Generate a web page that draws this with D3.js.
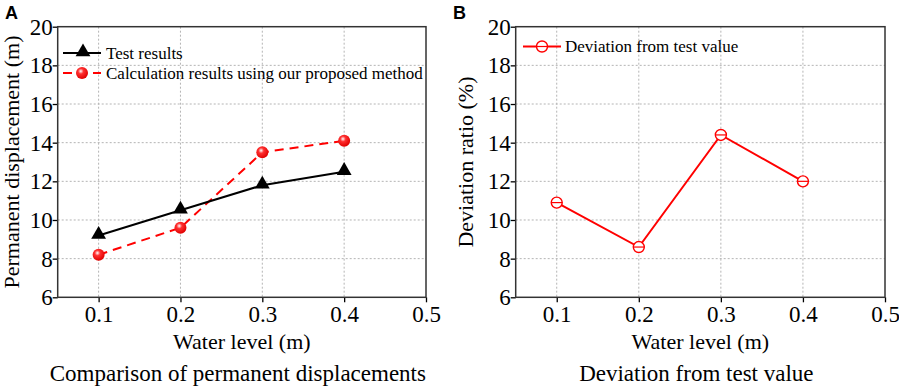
<!DOCTYPE html>
<html>
<head>
<meta charset="utf-8">
<script src="https://d3js.org/d3.v7.min.js"></script>
<style>
  body { margin: 0; background: #fff; }
  svg text { font-family: "Liberation Serif", "Times New Roman", serif; fill: #000; }
</style>
</head>
<body>
<div id="chart"></div>
<script>

// water level values (x)
var waterLevels = [0.1, 0.2, 0.3, 0.4];

// panel A series
var testResults = [9.2, 10.5, 11.8, 12.5];
var calcResults = [8.2, 9.6, 13.5, 14.1];

// panel B series
var deviation = [10.9, 8.6, 14.4, 12.0];

// ticks
var xTicks = [0.1, 0.2, 0.3, 0.4, 0.5];
var yTicks = [6, 8, 10, 12, 14, 16, 18, 20];

var W = 899, H = 387;

var svg = d3.select("#chart").append("svg")
  .attr("width", W)
  .attr("height", H);

var defs = svg.append("defs");
var grad = defs.append("radialGradient")
  .attr("id", "ball")
  .attr("cx", "40%").attr("cy", "35%").attr("r", "65%");
grad.append("stop").attr("offset", "0%").attr("stop-color", "#ffffff");
grad.append("stop").attr("offset", "35%").attr("stop-color", "#ff3030");
grad.append("stop").attr("offset", "100%").attr("stop-color", "#e00000");

// draws one framed panel, returns scales and group
function makePanel(left, right, top, bottom, yLabel, yLabelX, caption, letter, letterX) {
  var g = svg.append("g");

  var x = d3.scaleLinear().domain([0.05, 0.5]).range([left, right]);
  var y = d3.scaleLinear().domain([6, 20]).range([bottom, top]);

  // grid
  g.selectAll(".gx").data(xTicks.slice(0, 4)).enter().append("line")
    .attr("x1", function(d) { return x(d); }).attr("x2", function(d) { return x(d); })
    .attr("y1", top).attr("y2", bottom)
    .attr("stroke", "#b4b4b4").attr("stroke-width", 1).attr("stroke-dasharray", "2,2");
  g.selectAll(".gy").data(yTicks.slice(1, 7)).enter().append("line")
    .attr("y1", function(d) { return y(d); }).attr("y2", function(d) { return y(d); })
    .attr("x1", left).attr("x2", right)
    .attr("stroke", "#b4b4b4").attr("stroke-width", 1).attr("stroke-dasharray", "2,2");

  // axes
  var ax = g.append("g")
    .attr("transform", "translate(0," + bottom + ")")
    .call(d3.axisBottom(x).tickValues(xTicks).tickFormat(d3.format(".1f")).tickSize(5).tickSizeOuter(0));
  var ay = g.append("g")
    .attr("transform", "translate(" + left + ",0)")
    .call(d3.axisLeft(y).tickValues(yTicks).tickFormat(d3.format("d")).tickSize(5).tickSizeOuter(0));
  [ax, ay].forEach(function(a) {
    a.attr("font-family", null).attr("font-size", null);
    a.select(".domain").remove();
    a.selectAll("line").attr("stroke", "#000").attr("stroke-width", 1.3);
    a.selectAll("text").style("font-family", "Liberation Serif").style("font-size", "23px").attr("fill", "#000");
  });
  ax.selectAll("text").attr("y", 8).attr("dy", "0.72em");
  ay.selectAll("text").attr("x", -5).attr("dy", "0.33em");

  // frame
  g.append("rect")
    .attr("x", left).attr("y", top)
    .attr("width", right - left).attr("height", bottom - top)
    .attr("fill", "none").attr("stroke", "#333").attr("stroke-width", 1.5);

  // labels
  g.append("text")
    .attr("x", (left + right) / 2).attr("y", 349)
    .attr("text-anchor", "middle").style("font-size", "22px")
    .text("Water level (m)");
  g.append("text")
    .attr("transform", "translate(" + yLabelX + "," + ((top + bottom) / 2) + ") rotate(-90)")
    .attr("text-anchor", "middle").style("font-size", "22px")
    .text(yLabel);
  g.append("text")
    .attr("x", (left + right) / 2 - 4).attr("y", 381)
    .attr("text-anchor", "middle").style("font-size", "23px")
    .text(caption);
  g.append("text")
    .attr("x", letterX).attr("y", 19)
    .style("font-family", "Liberation Sans, Arial, sans-serif")
    .style("font-weight", "bold").style("font-size", "18px")
    .text(letter);

  return { g: g, x: x, y: y };
}

function triangle(g, cx, cy) {
  g.append("path")
    .attr("d", d3.symbol().type(d3.symbolTriangle).size(95)())
    .attr("transform", "translate(" + cx + "," + (cy - 1) + ")")
    .attr("fill", "#000");
}
function ball(g, cx, cy) {
  g.append("circle").attr("cx", cx).attr("cy", cy).attr("r", 6)
    .attr("fill", "url(#ball)");
}
function ring(g, cx, cy) {
  g.append("circle").attr("cx", cx).attr("cy", cy).attr("r", 5.5)
    .attr("fill", "#fff").attr("stroke", "#ff0000").attr("stroke-width", 1.4);
  g.append("line").attr("x1", cx - 5.5).attr("x2", cx + 5.5).attr("y1", cy).attr("y2", cy)
    .attr("stroke", "#ff0000").attr("stroke-width", 1.2);
}

// ---------- Panel A ----------
var A = makePanel(57.7, 426, 26.7, 297.3, "Permanent displacement (m)", 19,
  "Comparison of permanent displacements", "A", 5);

var lineA = d3.line()
  .x(function(d, i) { return A.x(waterLevels[i]); })
  .y(function(d) { return A.y(d); });

A.g.append("path").datum(calcResults)
  .attr("d", lineA).attr("fill", "none")
  .attr("stroke", "#ff0000").attr("stroke-width", 2).attr("stroke-dasharray", "9,6");
A.g.append("path").datum(testResults)
  .attr("d", lineA).attr("fill", "none")
  .attr("stroke", "#000").attr("stroke-width", 2);
testResults.forEach(function(d, i) { triangle(A.g, A.x(waterLevels[i]), A.y(d)); });
calcResults.forEach(function(d, i) { ball(A.g, A.x(waterLevels[i]), A.y(d)); });

// legend A
A.g.append("line").attr("x1", 63).attr("x2", 101).attr("y1", 53).attr("y2", 53)
  .attr("stroke", "#000").attr("stroke-width", 2);
triangle(A.g, 83, 53);
A.g.append("text").attr("x", 106).attr("y", 58.5).style("font-size", "17px").text("Test results");
A.g.append("line").attr("x1", 63).attr("x2", 101).attr("y1", 73).attr("y2", 73)
  .attr("stroke", "#ff0000").attr("stroke-width", 2).attr("stroke-dasharray", "9,6");
ball(A.g, 82, 73);
A.g.append("text").attr("x", 106).attr("y", 78.5).style("font-size", "17px")
  .text("Calculation results using our proposed method");

// ---------- Panel B ----------
var B = makePanel(515.7, 885, 26.7, 297.3, "Deviation ratio (%)", 473,
  "Deviation from test value", "B", 453);

var lineB = d3.line()
  .x(function(d, i) { return B.x(waterLevels[i]); })
  .y(function(d) { return B.y(d); });

B.g.append("path").datum(deviation)
  .attr("d", lineB).attr("fill", "none")
  .attr("stroke", "#ff0000").attr("stroke-width", 2);
deviation.forEach(function(d, i) { ring(B.g, B.x(waterLevels[i]), B.y(d)); });

// legend B
B.g.append("line").attr("x1", 523).attr("x2", 561).attr("y1", 46.5).attr("y2", 46.5)
  .attr("stroke", "#ff0000").attr("stroke-width", 2);
ring(B.g, 542, 46.5);
B.g.append("text").attr("x", 565).attr("y", 52).style("font-size", "17px")
  .text("Deviation from test value");

</script>
</body>
</html>
